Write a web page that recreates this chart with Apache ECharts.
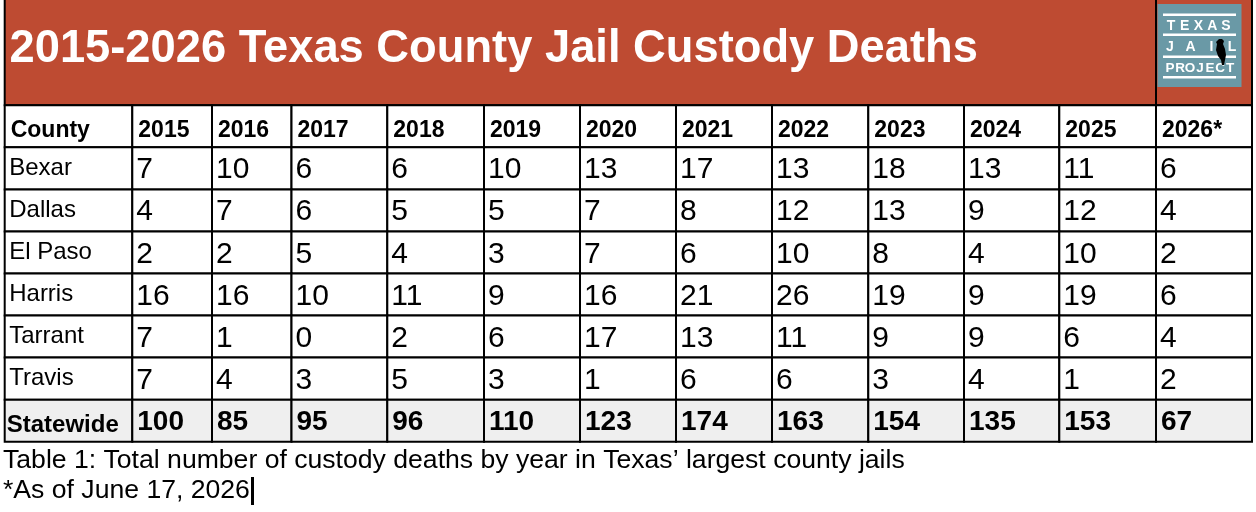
<!DOCTYPE html>
<html>
<head>
<meta charset="utf-8">
<script src="https://cdn.jsdelivr.net/npm/echarts@6/dist/echarts.min.js"></script>
<style>
  html, body { margin: 0; padding: 0; background: #fff; }
  #main { width: 1256px; height: 512px; }
</style>
</head>
<body>
<div id="main"></div>
<script type="text/javascript">
// 表格数据
var years = ['2015', '2016', '2017', '2018', '2019', '2020', '2021', '2022', '2023', '2024', '2025', '2026*'];
var counties = ['Bexar', 'Dallas', 'El Paso', 'Harris', 'Tarrant', 'Travis'];
var bexar   = [7, 10, 6, 6, 10, 13, 17, 13, 18, 13, 11, 6];
var dallas  = [4, 7, 6, 5, 5, 7, 8, 12, 13, 9, 12, 4];
var elPaso  = [2, 2, 5, 4, 3, 7, 6, 10, 8, 4, 10, 2];
var harris  = [16, 16, 10, 11, 9, 16, 21, 26, 19, 9, 19, 6];
var tarrant = [7, 1, 0, 2, 6, 17, 13, 11, 9, 9, 6, 4];
var travis  = [7, 4, 3, 5, 3, 1, 6, 6, 3, 4, 1, 2];
var statewide = [100, 85, 95, 96, 110, 123, 174, 163, 154, 135, 153, 67];
var countyValues = [bexar, dallas, elPaso, harris, tarrant, travis];

var titleText = '2015-2026 Texas County Jail Custody Deaths';
var captionLine1 = 'Table 1: Total number of custody deaths by year in Texas\u2019 largest county jails';
var captionLine2 = '*As of June 17, 2026';

// 列宽（布局）
var colWidths = [127.6, 79.7, 79.5, 95.8, 96.7, 96, 96, 96, 96.3, 95.7, 95.3, 96.7, 96];
var colEdges = [0];
for (var i = 0; i < colWidths.length; i++) colEdges.push(colEdges[i] + colWidths[i]);

var FONT = '"Liberation Sans", Arial, sans-serif';
var RED = '#be4b32';
var TEAL = '#6a99a6';

// 各类单元格样式
var kindStyle = {
  head:      { size: 23, weight: 'bold',   pad: 6,   dy: 4,   bg: '#fff' },
  name:      { size: 24, weight: 'normal', pad: 4.5, dy: 0,   bg: '#fff' },
  value:     { size: 30, weight: 'normal', pad: 4,   dy: 1.8, bg: '#fff' },
  totalName: { size: 24, weight: 'bold',   pad: 2,   dy: 5,   bg: '#efefef' },
  total:     { size: 28, weight: 'bold',   pad: 5,   dy: 1.5, bg: '#efefef' }
};

var rowKeys = ['County'].concat(counties).concat(['Statewide']);

// 组装单元格
var cells = [];
cells.push({ value: [0, 0], text: 'County', kind: 'head' });
years.forEach(function (y, j) { cells.push({ value: [j + 1, 0], text: y, kind: 'head' }); });
counties.forEach(function (c, r) {
  cells.push({ value: [0, r + 1], text: c, kind: 'name' });
  countyValues[r].forEach(function (v, j) {
    cells.push({ value: [j + 1, r + 1], text: String(v), kind: 'value' });
  });
});
var lastRow = counties.length + 1;
cells.push({ value: [0, lastRow], text: 'Statewide', kind: 'totalName' });
statewide.forEach(function (v, j) {
  cells.push({ value: [j + 1, lastRow], text: String(v), kind: 'total' });
});

function renderCell(params, api) {
  var cell = cells[params.dataIndex];
  var st = kindStyle[cell.kind];
  var col = api.value(0), row = api.value(1);
  var p0 = api.coord([colEdges[col], row]);
  var p1 = api.coord([colEdges[col + 1], row]);
  var h = api.size([0, 1])[1];
  var top = p0[1] - h / 2;
  return {
    type: 'group',
    children: [{
      type: 'rect',
      shape: { x: p0[0], y: top, width: p1[0] - p0[0], height: h },
      style: { fill: st.bg, stroke: '#000', lineWidth: 2 }
    }, {
      type: 'text',
      z2: 10,
      style: {
        text: cell.text,
        x: p0[0] + st.pad,
        y: p0[1] + st.dy,
        fill: '#000',
        font: st.weight + ' ' + st.size + 'px ' + FONT,
        align: 'left', textAlign: 'left',
        verticalAlign: 'middle', textVerticalAlign: 'middle'
      }
    }]
  };
}

function textEl(str, x, y, font, fill, align) {
  return {
    type: 'text', z: 5,
    style: {
      text: str, x: x, y: y, fill: fill, font: font,
      align: align, textAlign: align,
      verticalAlign: 'middle', textVerticalAlign: 'middle'
    }
  };
}

// 标志里的字母
function spacedLetters(str, x0, x1, y, size) {
  var out = [];
  var n = str.length;
  for (var k = 0; k < n; k++) {
    out.push(textEl(str[k], x0 + (x1 - x0) * k / (n - 1), y, 'bold ' + size + 'px ' + FONT, '#fff', 'center'));
  }
  return out;
}

var logoEls = [
  { type: 'rect', z: 4, shape: { x: 1157.5, y: 4, width: 84, height: 83 }, style: { fill: TEAL } }
];
[14.7, 34.7, 56.7, 77.3].forEach(function (ly) {
  logoEls.push({ type: 'rect', z: 5, shape: { x: 1163, y: ly - 1.3, width: 73, height: 2.6 }, style: { fill: '#fff' } });
});
logoEls = logoEls
  .concat(spacedLetters('TEXAS', 1171, 1226, 26, 14))
  .concat(spacedLetters('JAIL', 1170, 1232, 47.5, 14))
  .concat(spacedLetters('PROJECT', 1170, 1230, 68, 13.5));
// 小鸟剪影
logoEls.push({
  type: 'polygon', z: 6,
  shape: {
    points: [[1219, 39], [1222, 39], [1224, 41], [1223, 44], [1225, 49], [1226, 55], [1225, 60],
             [1224, 65], [1222, 65], [1221, 60], [1218, 56], [1216, 50], [1217, 44], [1216, 42]]
  },
  style: { fill: '#000' }
});

var myChart = echarts.init(document.getElementById('main'));

var option = {
  backgroundColor: '#fff',
  animation: false,
  grid: { left: 4.7, top: 105.3, width: colEdges[colEdges.length - 1], height: 336.4 },
  xAxis: { type: 'value', min: 0, max: colEdges[colEdges.length - 1], show: false },
  yAxis: { type: 'category', data: rowKeys, inverse: true, show: false },
  graphic: [
    {
      type: 'rect', z: 1,
      shape: { x: 4.7, y: -4, width: 1247.3, height: 109.3 },
      style: { fill: RED, stroke: '#000', lineWidth: 2 }
    },
    {
      type: 'line', z: 2,
      shape: { x1: 1156, y1: -4, x2: 1156, y2: 105.3 },
      style: { stroke: '#000', lineWidth: 2 }
    },
    textEl(titleText, 9.5, 50, 'bold 45.3px ' + FONT, '#fff', 'left'),
    textEl(captionLine1, 3, 460.8, 'normal 26.6px ' + FONT, '#000', 'left'),
    textEl(captionLine2, 3, 490.2, 'normal 26.6px ' + FONT, '#000', 'left'),
    {
      type: 'rect', z: 3,
      shape: { x: 251, y: 477, width: 3, height: 28 },
      style: { fill: '#000' }
    }
  ].concat(logoEls),
  series: [{
    type: 'custom',
    renderItem: renderCell,
    data: cells,
    silent: true
  }]
};

myChart.setOption(option);
</script>
</body>
</html>
